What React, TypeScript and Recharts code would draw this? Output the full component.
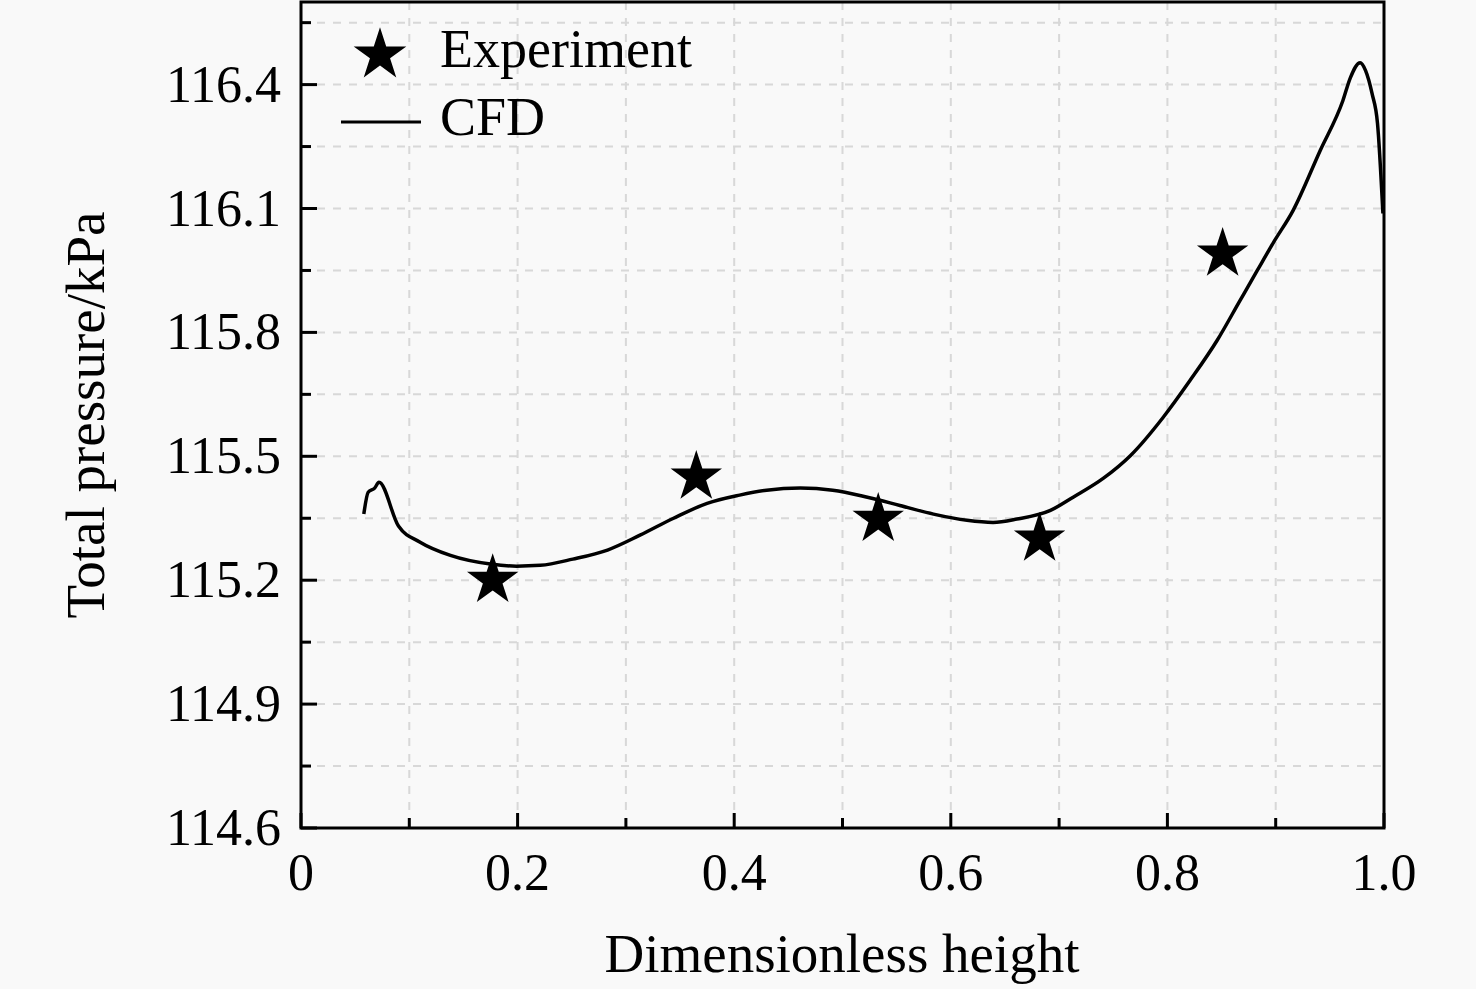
import React from 'react'
import {
  ComposedChart,
  Line,
  Scatter,
  XAxis,
  YAxis,
  CartesianGrid,
  ReferenceArea,
  Symbols,
} from 'recharts'

// CFD curve: dimensionless height vs total pressure (kPa)
const cfdHeight = [
  0.058, 0.062, 0.068, 0.072, 0.09, 0.11, 0.138, 0.175, 0.199, 0.221, 0.251, 0.283,
  0.313, 0.344, 0.375, 0.405, 0.43, 0.461, 0.491, 0.523, 0.553, 0.584, 0.615, 0.639,
  0.661, 0.692, 0.713, 0.741, 0.766, 0.796, 0.821, 0.846, 0.867, 0.883, 0.898, 0.916,
  0.941, 0.962, 0.969, 0.978, 0.983, 0.989, 0.994, 0.999,
]
const cfdPressure = [
  115.36, 115.413, 115.423, 115.437, 115.331, 115.292, 115.26, 115.239, 115.234, 115.236,
  115.251, 115.273, 115.309, 115.35, 115.386, 115.406, 115.418, 115.423, 115.418, 115.401,
  115.381, 115.36, 115.345, 115.34, 115.348, 115.369, 115.401, 115.447, 115.502, 115.594,
  115.684, 115.781, 115.877, 115.95, 116.018, 116.095, 116.24, 116.361, 116.417, 116.453,
  116.434, 116.378, 116.306, 116.088,
]

// experiment points
const expHeight = [0.177, 0.365, 0.533, 0.682, 0.851]
const expPressure = [115.2, 115.45, 115.348, 115.3, 115.99]

// ticks (majors get labels, minors only a short mark)
const xTicks = [0, 0.1, 0.2, 0.3, 0.4, 0.5, 0.6, 0.7, 0.8, 0.9, 1.0]
const yTicks = [
  114.6, 114.75, 114.9, 115.05, 115.2, 115.35, 115.5, 115.65, 115.8, 115.95, 116.1,
  116.25, 116.4, 116.55,
]

const cfd = cfdHeight.map((h, i) => ({ h, p: cfdPressure[i] }))
const exp = expHeight.map((h, i) => ({ h, p: expPressure[i] }))

const FONT = '"Liberation Serif", "Times New Roman", serif'

const XTick = (props: any) => {
  const { x, y, payload, index } = props
  const major = index % 2 === 0
  const v = payload.value
  return (
    <g>
      <line x1={x} x2={x} y1={y} y2={y - (major ? 15 : 10)} stroke="#000" strokeWidth={3} />
      {major && (
        <text x={x} y={y + 62} textAnchor="middle" fontSize={52} fontFamily={FONT} fill="#000">
          {v === 0 ? '0' : v.toFixed(1)}
        </text>
      )}
    </g>
  )
}

const YTick = (props: any) => {
  const { x, y, payload, index } = props
  const major = index % 2 === 0
  return (
    <g>
      <line x1={x} x2={x + (major ? 16 : 10)} y1={y} y2={y} stroke="#000" strokeWidth={3} />
      {major && (
        <text x={x - 20} y={y + 17} textAnchor="end" fontSize={52} fontFamily={FONT} fill="#000">
          {payload.value.toFixed(1)}
        </text>
      )}
    </g>
  )
}

export default function App() {
  return (
    <div
      style={{
        position: 'absolute',
        left: 0,
        top: 0,
        width: 1476,
        height: 989,
        background: '#f9f9f9',
        fontFamily: FONT,
      }}
    >
      <ComposedChart width={1476} height={989} margin={{ top: 2, right: 92, bottom: 0, left: 0 }}>
        <CartesianGrid strokeDasharray="8 8" stroke="#d8d8d8" strokeWidth={2} />
        <XAxis
          dataKey="h"
          type="number"
          domain={[0, 1]}
          ticks={xTicks}
          interval={0}
          height={161}
          tickSize={0}
          tickMargin={0}
          tickLine={false}
          axisLine={false}
          tick={XTick}
          allowDataOverflow
        />
        <YAxis
          dataKey="p"
          type="number"
          domain={[114.6, 116.6]}
          ticks={yTicks}
          interval={0}
          width={301}
          tickSize={0}
          tickMargin={0}
          tickLine={false}
          axisLine={false}
          tick={YTick}
          allowDataOverflow
        />
        <ReferenceArea
          x1={0}
          x2={1}
          y1={114.6}
          y2={116.6}
          fill="none"
          stroke="#000"
          strokeWidth={3}
          ifOverflow="visible"
        />
        <Line
          data={cfd}
          dataKey="p"
          type="monotone"
          stroke="#000"
          strokeWidth={3.5}
          dot={false}
          activeDot={false}
          isAnimationActive={false}
        />
        <Scatter
          data={exp}
          dataKey="p"
          isAnimationActive={false}
          shape={(p: any) => <Symbols cx={p.cx} cy={p.cy} type="star" size={820} fill="#000" />}
        />
      </ComposedChart>

      {/* legend and axis titles */}
      <svg
        width={1476}
        height={989}
        style={{ position: 'absolute', left: 0, top: 0, pointerEvents: 'none' }}
      >
        <Symbols cx={380} cy={55} type="star" size={860} fill="#000" />
        <text x={440} y={67} fontSize={54} fontFamily={FONT} fill="#000">
          Experiment
        </text>
        <line x1={341} x2={421} y1={122} y2={122} stroke="#000" strokeWidth={3} />
        <text x={440} y={135} fontSize={54} fontFamily={FONT} fill="#000">
          CFD
        </text>
        <text x={842} y={972} textAnchor="middle" fontSize={55} fontFamily={FONT} fill="#000">
          Dimensionless height
        </text>
        <text
          x={104}
          y={415}
          textAnchor="middle"
          transform="rotate(-90 104 415)"
          fontSize={55}
          fontFamily={FONT}
          fill="#000"
        >
          Total pressure/kPa
        </text>
      </svg>
    </div>
  )
}
